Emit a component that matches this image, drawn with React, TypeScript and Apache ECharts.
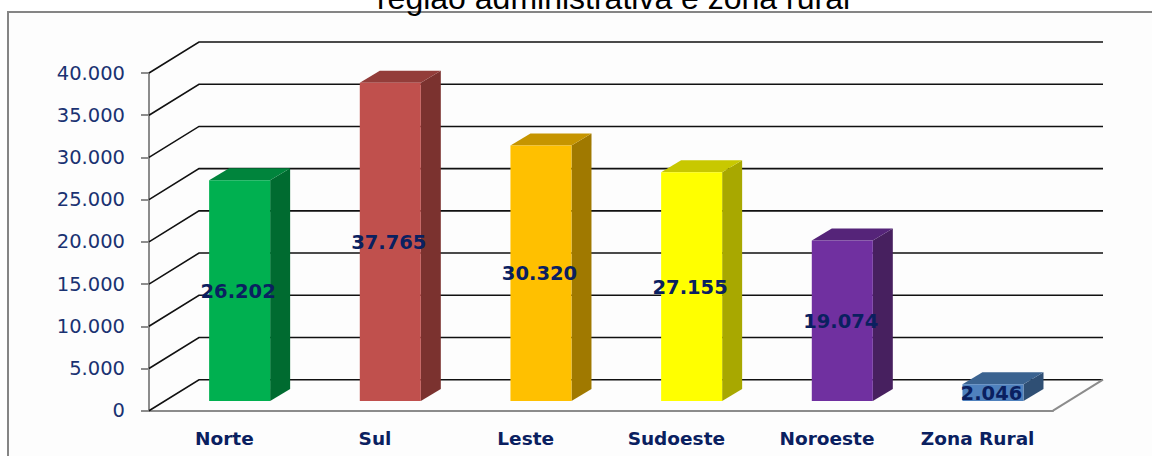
import React, { useEffect, useRef } from "react";
import * as echarts from "echarts";

const categories = ["Norte", "Sul", "Leste", "Sudoeste", "Noroeste", "Zona Rural"];
const values = [26202, 37765, 30320, 27155, 19074, 2046];
const valueLabels = ["26.202", "37.765", "30.320", "27.155", "19.074", "2.046"];
const gridValues = [0, 5000, 10000, 15000, 20000, 25000, 30000, 35000, 40000];
const titleText = "região administrativa e zona rural";

const frontColors = ["#00b050", "#c0504d", "#ffc000", "#ffff00", "#7030a0", "#4f81bd"];
const sideColors = ["#006b30", "#7b322f", "#a07900", "#a8a800", "#47205f", "#2f4f74"];
const topColors = ["#00843c", "#933d3a", "#c69500", "#c8c800", "#552479", "#3b6390"];

const WALL_DX = 50;
const WALL_DY = -31;
const INK = "#0a2060";

const fmt = (v: number) => (v === 0 ? "0" : `${Math.floor(v / 1000)}.${String(v % 1000).padStart(3, "0")}`);

export default function App() {
  const ref = useRef<HTMLDivElement>(null);
  useEffect(() => {
    document.body.style.margin = "0";
    const chart = echarts.init(ref.current!, null, { renderer: "svg" });
    chart.setOption({
      animation: false,
      backgroundColor: "#ffffff",
      graphic: [
        {
          type: "rect",
          z: -10,
          shape: { x: 8, y: 12, width: 1300, height: 600 },
          style: { fill: "#fdfdfd", stroke: "#858585", lineWidth: 2 },
        },
        {
          type: "text",
          x: 613.5,
          y: 14,
          style: {
            text: titleText,
            font: '32px "Liberation Sans"',
            fill: "#000000",
            textAlign: "center",
            textVerticalAlign: "bottom",
          },
        },
      ],
      grid: { left: 149, right: 99, top: 73, bottom: 45.3 },
      xAxis: {
        type: "category",
        data: categories,
        axisLine: { lineStyle: { color: "#8c8c8c", width: 2 } },
        axisTick: { length: 7, lineStyle: { color: "#8c8c8c", width: 2 } },
        axisLabel: {
          margin: 18,
          color: INK,
          fontFamily: "DejaVu Sans",
          fontWeight: "bold",
          fontSize: 18.5,
        },
        splitLine: { show: false },
      },
      yAxis: {
        type: "value",
        min: 0,
        max: 40000,
        interval: 5000,
        axisLine: { show: true, lineStyle: { color: "#8c8c8c", width: 2 } },
        axisTick: { show: true, length: 8, lineStyle: { color: "#8c8c8c", width: 2 } },
        axisLabel: {
          margin: 24,
          color: "#1a3272",
          fontFamily: "DejaVu Sans",
          fontSize: 19.5,
          formatter: (v: number) => fmt(v),
        },
        splitLine: { show: false },
      },
      series: [
        {
          type: "custom",
          name: "walls",
          clip: false,
          z: 1,
          silent: true,
          data: gridValues.map((v) => [0, v]),
          renderItem: (params: any, api: any) => {
            const y = api.coord([0, api.value(1)])[1];
            const left = params.coordSys.x;
            const right = left + params.coordSys.width;
            const children: any[] = [
              {
                type: "polyline",
                shape: { points: [[left, y], [left + WALL_DX, y + WALL_DY], [right + WALL_DX, y + WALL_DY]] },
                style: { fill: "none", stroke: "#111111", lineWidth: 1.6 },
              },
            ];
            if (api.value(1) === 0) {
              children.push({
                type: "line",
                shape: { x1: right, y1: y, x2: right + WALL_DX, y2: y + WALL_DY },
                style: { stroke: "#8c8c8c", lineWidth: 2 },
              });
            }
            return { type: "group", children };
          },
        },
        {
          type: "custom",
          name: "bars",
          clip: false,
          z: 2,
          data: values.map((v, i) => [i, v]),
          renderItem: (params: any, api: any) => {
            const i = api.value(0);
            const base = api.coord([i, 0]);
            const top = api.coord([i, api.value(1)]);
            const band = api.size([1, 0])[0];
            const w = band * 0.405;
            const x0 = base[0] - w / 2 + 15.3;
            const x1 = x0 + w;
            const yB = base[1] - 9.7;
            const yT = top[1] - 9.2;
            const dx = 20;
            const dy = -12;
            return {
              type: "group",
              children: [
                {
                  type: "polygon",
                  shape: { points: [[x1, yT], [x1 + dx, yT + dy], [x1 + dx, yB + dy], [x1, yB]] },
                  style: { fill: sideColors[i] },
                },
                {
                  type: "polygon",
                  shape: { points: [[x0, yT], [x0 + dx, yT + dy], [x1 + dx, yT + dy], [x1, yT]] },
                  style: { fill: topColors[i] },
                },
                {
                  type: "rect",
                  shape: { x: x0, y: yT, width: w, height: yB - yT },
                  style: { fill: frontColors[i] },
                },
                {
                  type: "text",
                  x: (x0 + x1) / 2 - 1.5,
                  y: (yT + yB) / 2 + 0.5,
                  style: {
                    text: valueLabels[i],
                    font: 'bold 19.5px "DejaVu Sans"',
                    fill: INK,
                    textAlign: "center",
                    textVerticalAlign: "middle",
                  },
                },
              ],
            };
          },
        },
      ],
    });
    return () => chart.dispose();
  }, []);
  return <div ref={ref} style={{ position: "absolute", left: 0, top: 0, width: 1152, height: 456 }} />;
}
